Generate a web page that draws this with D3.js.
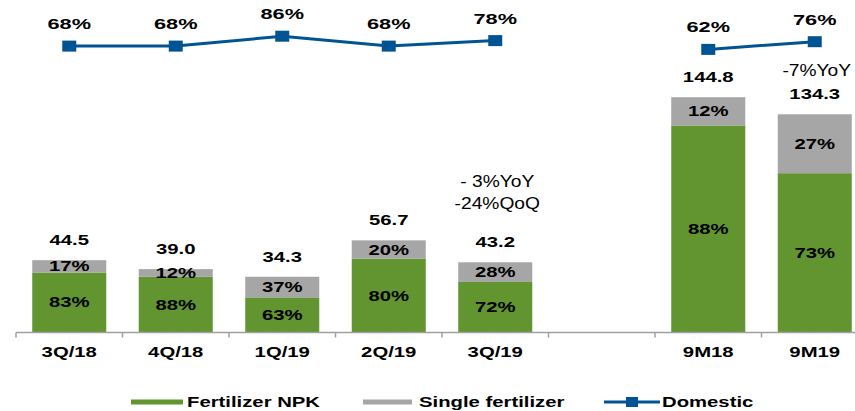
<!DOCTYPE html>
<html>
<head>
<meta charset="utf-8">
<script src="https://cdn.jsdelivr.net/npm/d3@7"></script>
<style>
  body { margin: 0; background: #fff; }
  svg { display: block; font-family: "Liberation Sans", Arial, sans-serif; }
</style>
</head>
<body>
<div id="chart"></div>
<script>
// values
var categories = ["3Q/18", "4Q/18", "1Q/19", "2Q/19", "3Q/19", "", "9M18", "9M19"];
var totals = [44.5, 39.0, 34.3, 56.7, 43.2, null, 144.8, 134.3];
var npkShare = [83, 88, 63, 80, 72, null, 88, 73];
var singleShare = [17, 12, 37, 20, 28, null, 12, 27];
var domestic = [68, 68, 86, 68, 78, null, 62, 76];
var notes = [
  {cat: "3Q/19", lines: ["- 3%YoY", "-24%QoQ"], y: 187},
  {cat: "9M19", lines: ["-7%YoY"], y: 76}
];

var width = 855, height = 411
var green = "#62952f", grey = "#a6a6a6", blue = "#005493"
var sx = 1.45 // the source picture is stretched sideways

var svg = d3.select("#chart").append("svg")
  .attr("width", width)
  .attr("height", height)

var x = d3.scaleBand().domain(categories).range([16, 868]).padding(0)
var barW = x.bandwidth() * 0.695
var y = d3.scaleLinear().domain([0, 150]).range([332.5, 332.5 - 150 * 1.625])
var yLine = d3.scaleLinear().domain([0, 100]).range([83.5, 28.5])

var cx = function(i) { return x(categories[i]) + x.bandwidth() / 2 }

function label(g, tx, ty, txt, size, weight, scale) {
  return g.append("text")
    .attr("transform", "translate(" + tx + "," + ty + ") scale(" + (scale || sx) + ",1)")
    .attr("text-anchor", "middle")
    .style("font-size", size + "px")
    .style("font-weight", weight)
    .attr("fill", "#000")
    .text(txt)
}

var rows = categories.map(function(c, i) {
  return {i: i, cat: c, total: totals[i], npk: npkShare[i], single: singleShare[i]}
}).filter(function(d) { return d.total != null })

// stacked bars
var bars = svg.append("g")
rows.forEach(function(d) {
  var x0 = cx(d.i) - barW / 2
  var npkVal = d.total * d.npk / 100
  bars.append("rect")
    .attr("x", x0).attr("width", barW)
    .attr("y", y(npkVal)).attr("height", y(0) - y(npkVal))
    .attr("fill", green)
  bars.append("rect")
    .attr("x", x0).attr("width", barW)
    .attr("y", y(d.total)).attr("height", y(npkVal) - y(d.total))
    .attr("fill", grey)
  label(bars, cx(d.i), (y(0) + y(npkVal)) / 2 + 5, d.npk + "%", 14, "bold")
  label(bars, cx(d.i), (y(npkVal) + y(d.total)) / 2 + 5, d.single + "%", 14, "bold")
  label(bars, cx(d.i), y(d.total) - 15, d3.format(".1f")(d.total), 14, "bold")
})

// axis
var axis = svg.append("g").attr("transform", "translate(0," + y(0) + ")")
axis.append("line").attr("x1", 16).attr("x2", width).attr("stroke", "#a0a0a0").attr("stroke-width", 1.5)
axis.selectAll(".tk").data(d3.range(categories.length + 1)).enter().append("line")
  .attr("x1", function(i) { return 16 + i * x.step() })
  .attr("x2", function(i) { return 16 + i * x.step() })
  .attr("y1", 0).attr("y2", 5)
  .attr("stroke", "#a0a0a0").attr("stroke-width", 1.5)
categories.forEach(function(c, i) {
  if (c) label(svg, cx(i), 357, c, 14, "bold")
})

// domestic line
var line = d3.line()
  .defined(function(d) { return d != null })
  .x(function(d, i) { return cx(i) })
  .y(function(d) { return yLine(d) })
svg.append("path").datum(domestic)
  .attr("d", line)
  .attr("fill", "none")
  .attr("stroke", blue)
  .attr("stroke-width", 3)
domestic.forEach(function(v, i) {
  if (v == null) return
  svg.append("rect")
    .attr("x", cx(i) - 7).attr("y", yLine(v) - 5.5)
    .attr("width", 14).attr("height", 11)
    .attr("fill", blue)
  label(svg, cx(i), yLine(v) - 17, v + "%", 15, "bold")
})

// notes
notes.forEach(function(n) {
  var i = categories.indexOf(n.cat)
  n.lines.forEach(function(t, k) {
    label(svg, cx(i) + 2, n.y + k * 22, t, 16, "normal", 1.2)
  })
})

// legend
var leg = svg.append("g")
leg.append("rect").attr("x", 131).attr("y", 399.5).attr("width", 52).attr("height", 5).attr("fill", green)
leg.append("rect").attr("x", 363).attr("y", 399.5).attr("width", 49).attr("height", 5).attr("fill", grey)
leg.append("line").attr("x1", 604).attr("x2", 660).attr("y1", 402).attr("y2", 402).attr("stroke", blue).attr("stroke-width", 3)
leg.append("rect").attr("x", 626).attr("y", 397).attr("width", 12).attr("height", 10).attr("fill", blue)
var legendItems = [["Fertilizer NPK", 187], ["Single fertilizer", 419], ["Domestic", 662]]
legendItems.forEach(function(d) {
  leg.append("text")
    .attr("transform", "translate(" + d[1] + ",407) scale(" + sx + ",1)")
    .style("font-size", "14px").style("font-weight", "bold")
    .text(d[0])
})
</script>
</body>
</html>
